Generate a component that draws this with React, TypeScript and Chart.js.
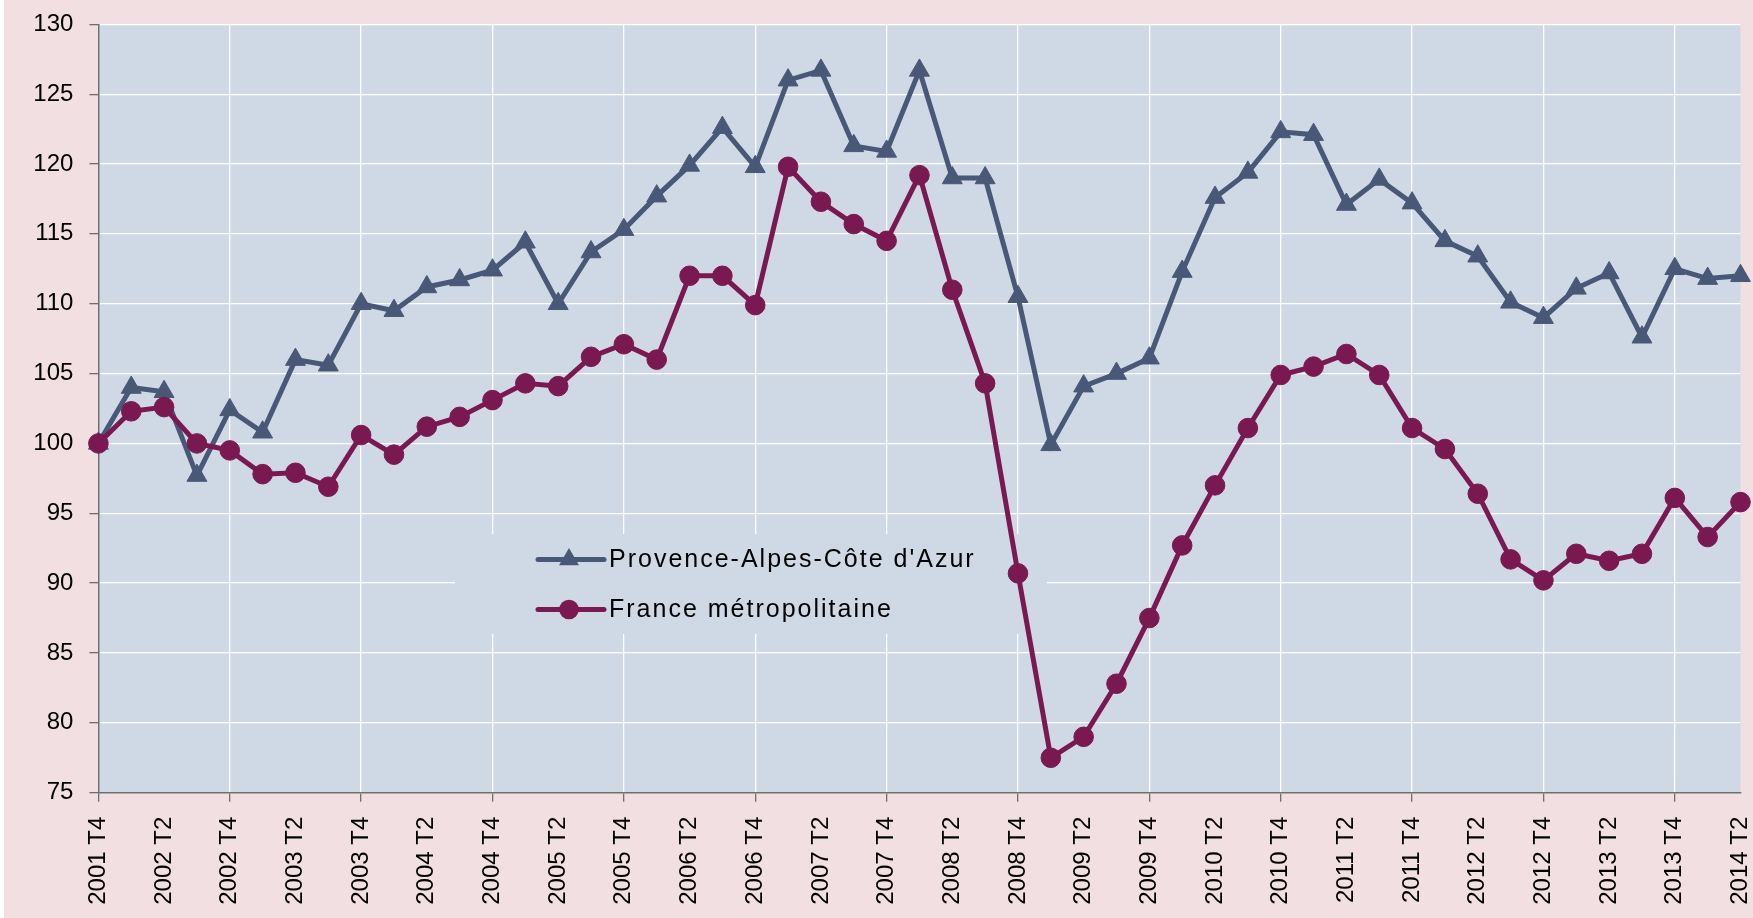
import { useEffect, useRef } from 'react';
import { Chart, registerables } from 'chart.js';

Chart.register(...registerables);

const quarters = [
  '2001 T4',
  '2002 T1', '2002 T2', '2002 T3', '2002 T4',
  '2003 T1', '2003 T2', '2003 T3', '2003 T4',
  '2004 T1', '2004 T2', '2004 T3', '2004 T4',
  '2005 T1', '2005 T2', '2005 T3', '2005 T4',
  '2006 T1', '2006 T2', '2006 T3', '2006 T4',
  '2007 T1', '2007 T2', '2007 T3', '2007 T4',
  '2008 T1', '2008 T2', '2008 T3', '2008 T4',
  '2009 T1', '2009 T2', '2009 T3', '2009 T4',
  '2010 T1', '2010 T2', '2010 T3', '2010 T4',
  '2011 T1', '2011 T2', '2011 T3', '2011 T4',
  '2012 T1', '2012 T2', '2012 T3', '2012 T4',
  '2013 T1', '2013 T2', '2013 T3', '2013 T4',
  '2014 T1', '2014 T2',
];

const pacaValues = [
  100.0,
  104.0, 103.7, 97.7, 102.4,
  100.8, 106.0, 105.6, 110.0,
  109.5, 111.2, 111.7, 112.4,
  114.4, 110.0, 113.7, 115.3,
  117.7, 119.9, 122.6, 119.8,
  126.0, 126.7, 121.3, 120.9,
  126.7, 119.0, 119.0, 110.5,
  99.9, 104.1, 105.0, 106.1,
  112.3, 117.6, 119.4, 122.3,
  122.1, 117.1, 118.9, 117.2,
  114.5, 113.4, 110.1, 109.0,
  111.1, 112.2, 107.6, 112.5,
  111.8, 112.0,
];

const franceValues = [
  100.0,
  102.3, 102.6, 100.0, 99.5,
  97.8, 97.9, 96.9, 100.6,
  99.2, 101.2, 101.9, 103.1,
  104.3, 104.1, 106.2, 107.1,
  106.0, 112.0, 112.0, 109.9,
  119.8, 117.3, 115.7, 114.5,
  119.2, 111.0, 104.3, 90.7,
  77.5, 79.0, 82.8, 87.5,
  92.7, 97.0, 101.1, 104.9,
  105.5, 106.4, 104.9, 101.1,
  99.6, 96.4, 91.7, 90.2,
  92.1, 91.6, 92.1, 96.1,
  93.3, 95.8,
];

const seriesNames = ["Provence-Alpes-Côte d'Azur", 'France métropolitaine'];

const yMin = 75;
const yMax = 130;
const yStep = 5;

const PAGE_BG = '#f2dfe1';
const PLOT_BG = '#cfd8e5';
const PACA_COLOR = '#4a5878';
const FRANCE_COLOR = '#7a1951';
const AXIS_COLOR = '#6e6e6e';
const FONT = "'Liberation Sans', Arial, sans-serif";

export default function App() {
  const ref = useRef<HTMLCanvasElement>(null);

  useEffect(() => {
    const canvas = ref.current!;

    const bgPlugin = {
      id: 'bgPlugin',
      beforeDraw(chart: any) {
        const { ctx, chartArea: a, width, height } = chart;
        ctx.save();
        ctx.fillStyle = PAGE_BG;
        ctx.fillRect(0, 0, width, height);
        ctx.fillStyle = PLOT_BG;
        ctx.fillRect(a.left, a.top, a.right - a.left, a.bottom - a.top);
        ctx.restore();
      },
    };

    const legendPlugin = {
      id: 'insideLegend',
      beforeDatasetsDraw(chart: any) {
        const { ctx } = chart;
        ctx.save();
        ctx.fillStyle = PLOT_BG;
        ctx.fillRect(451, 534, 592, 100);
        const rows = [
          { y: 559.5, color: PACA_COLOR, style: 'triangle', radius: 11.5, name: seriesNames[0] },
          { y: 609.5, color: FRANCE_COLOR, style: 'circle', radius: 9.8, name: seriesNames[1] },
        ];
        rows.forEach((r) => {
          ctx.strokeStyle = r.color;
          ctx.lineWidth = 5;
          ctx.lineCap = 'round';
          ctx.beginPath();
          ctx.moveTo(534, r.y);
          ctx.lineTo(600, r.y);
          ctx.stroke();
          ctx.fillStyle = r.color;
          ctx.beginPath();
          if (r.style === 'circle') {
            ctx.arc(565, r.y, r.radius, 0, Math.PI * 2);
          } else {
            const rad = r.radius;
            ctx.moveTo(565, r.y - rad);
            ctx.lineTo(565 + Math.sin((2 * Math.PI) / 3) * rad, r.y + rad / 2);
            ctx.lineTo(565 - Math.sin((2 * Math.PI) / 3) * rad, r.y + rad / 2);
            ctx.closePath();
          }
          ctx.fill();
          ctx.fillStyle = '#000';
          ctx.font = `25px ${FONT}`;
          (ctx as any).letterSpacing = '2px';
          ctx.textBaseline = 'alphabetic';
          ctx.textAlign = 'left';
          ctx.fillText(r.name, 605, r.y + 7.3);
        });
        ctx.restore();
      },
    };

    const chart = new Chart(canvas, {
      type: 'line',
      data: {
        labels: quarters,
        datasets: [
          {
            label: seriesNames[0],
            data: pacaValues,
            borderColor: PACA_COLOR,
            backgroundColor: PACA_COLOR,
            borderWidth: 5,
            pointStyle: 'triangle',
            pointRadius: 11.5,
            pointBorderWidth: 1,
            pointBackgroundColor: PACA_COLOR,
            pointBorderColor: PACA_COLOR,
            tension: 0,
            clip: false as any,
            order: 1,
          },
          {
            label: seriesNames[1],
            data: franceValues,
            borderColor: FRANCE_COLOR,
            backgroundColor: FRANCE_COLOR,
            borderWidth: 5,
            pointStyle: 'circle',
            pointRadius: 9.8,
            pointBorderWidth: 1,
            pointBackgroundColor: FRANCE_COLOR,
            pointBorderColor: FRANCE_COLOR,
            tension: 0,
            clip: false as any,
            order: 0,
          },
        ],
      },
      options: {
        animation: false,
        responsive: false,
        devicePixelRatio: 1,
        layout: { padding: { left: 0, top: 24.3, right: 11, bottom: 0 } },
        plugins: {
          legend: { display: false },
          tooltip: { enabled: false },
        },
        scales: {
          x: {
            type: 'category',
            offset: false,
            grid: {
              color: (c: any) => (c.index % 4 === 0 ? '#ffffff' : 'rgba(0,0,0,0)'),
              tickColor: (c: any) => (c.index % 4 === 0 ? AXIS_COLOR : 'rgba(0,0,0,0)'),
              lineWidth: 1.3,
              tickLength: 9,
              drawTicks: true,
            },
            border: { color: AXIS_COLOR, width: 1.5 },
            ticks: {
              autoSkip: false,
              maxRotation: 90,
              minRotation: 90,
              padding: 15,
              color: '#000',
              font: { family: FONT, size: 24, lineHeight: 1 },
              callback: (_v: any, i: number) => (i % 2 === 0 ? quarters[i] : ''),
            },
            afterFit: (s: any) => {
              s.height = 125.3;
              s.paddingLeft = 0;
              s.paddingRight = 0;
            },
          },
          y: {
            min: yMin,
            max: yMax,
            grid: {
              color: '#ffffff',
              lineWidth: 1.3,
              tickColor: AXIS_COLOR,
              tickLength: 9,
            },
            border: { color: AXIS_COLOR, width: 1.5 },
            ticks: {
              stepSize: yStep,
              padding: 16,
              color: '#000',
              font: { family: FONT, size: 24, lineHeight: 1 },
            },
            afterFit: (s: any) => {
              s.width = 94.4;
              s.paddingTop = 0;
              s.paddingBottom = 0;
            },
          },
        },
      },
      plugins: [bgPlugin, legendPlugin],
    });

    return () => chart.destroy();
  }, []);

  return (
    <div style={{ position: 'fixed', left: 4, top: 0, width: 1749, height: 918, background: PAGE_BG }}>
      <canvas ref={ref} width={1749} height={918} style={{ display: 'block' }} />
    </div>
  );
}
